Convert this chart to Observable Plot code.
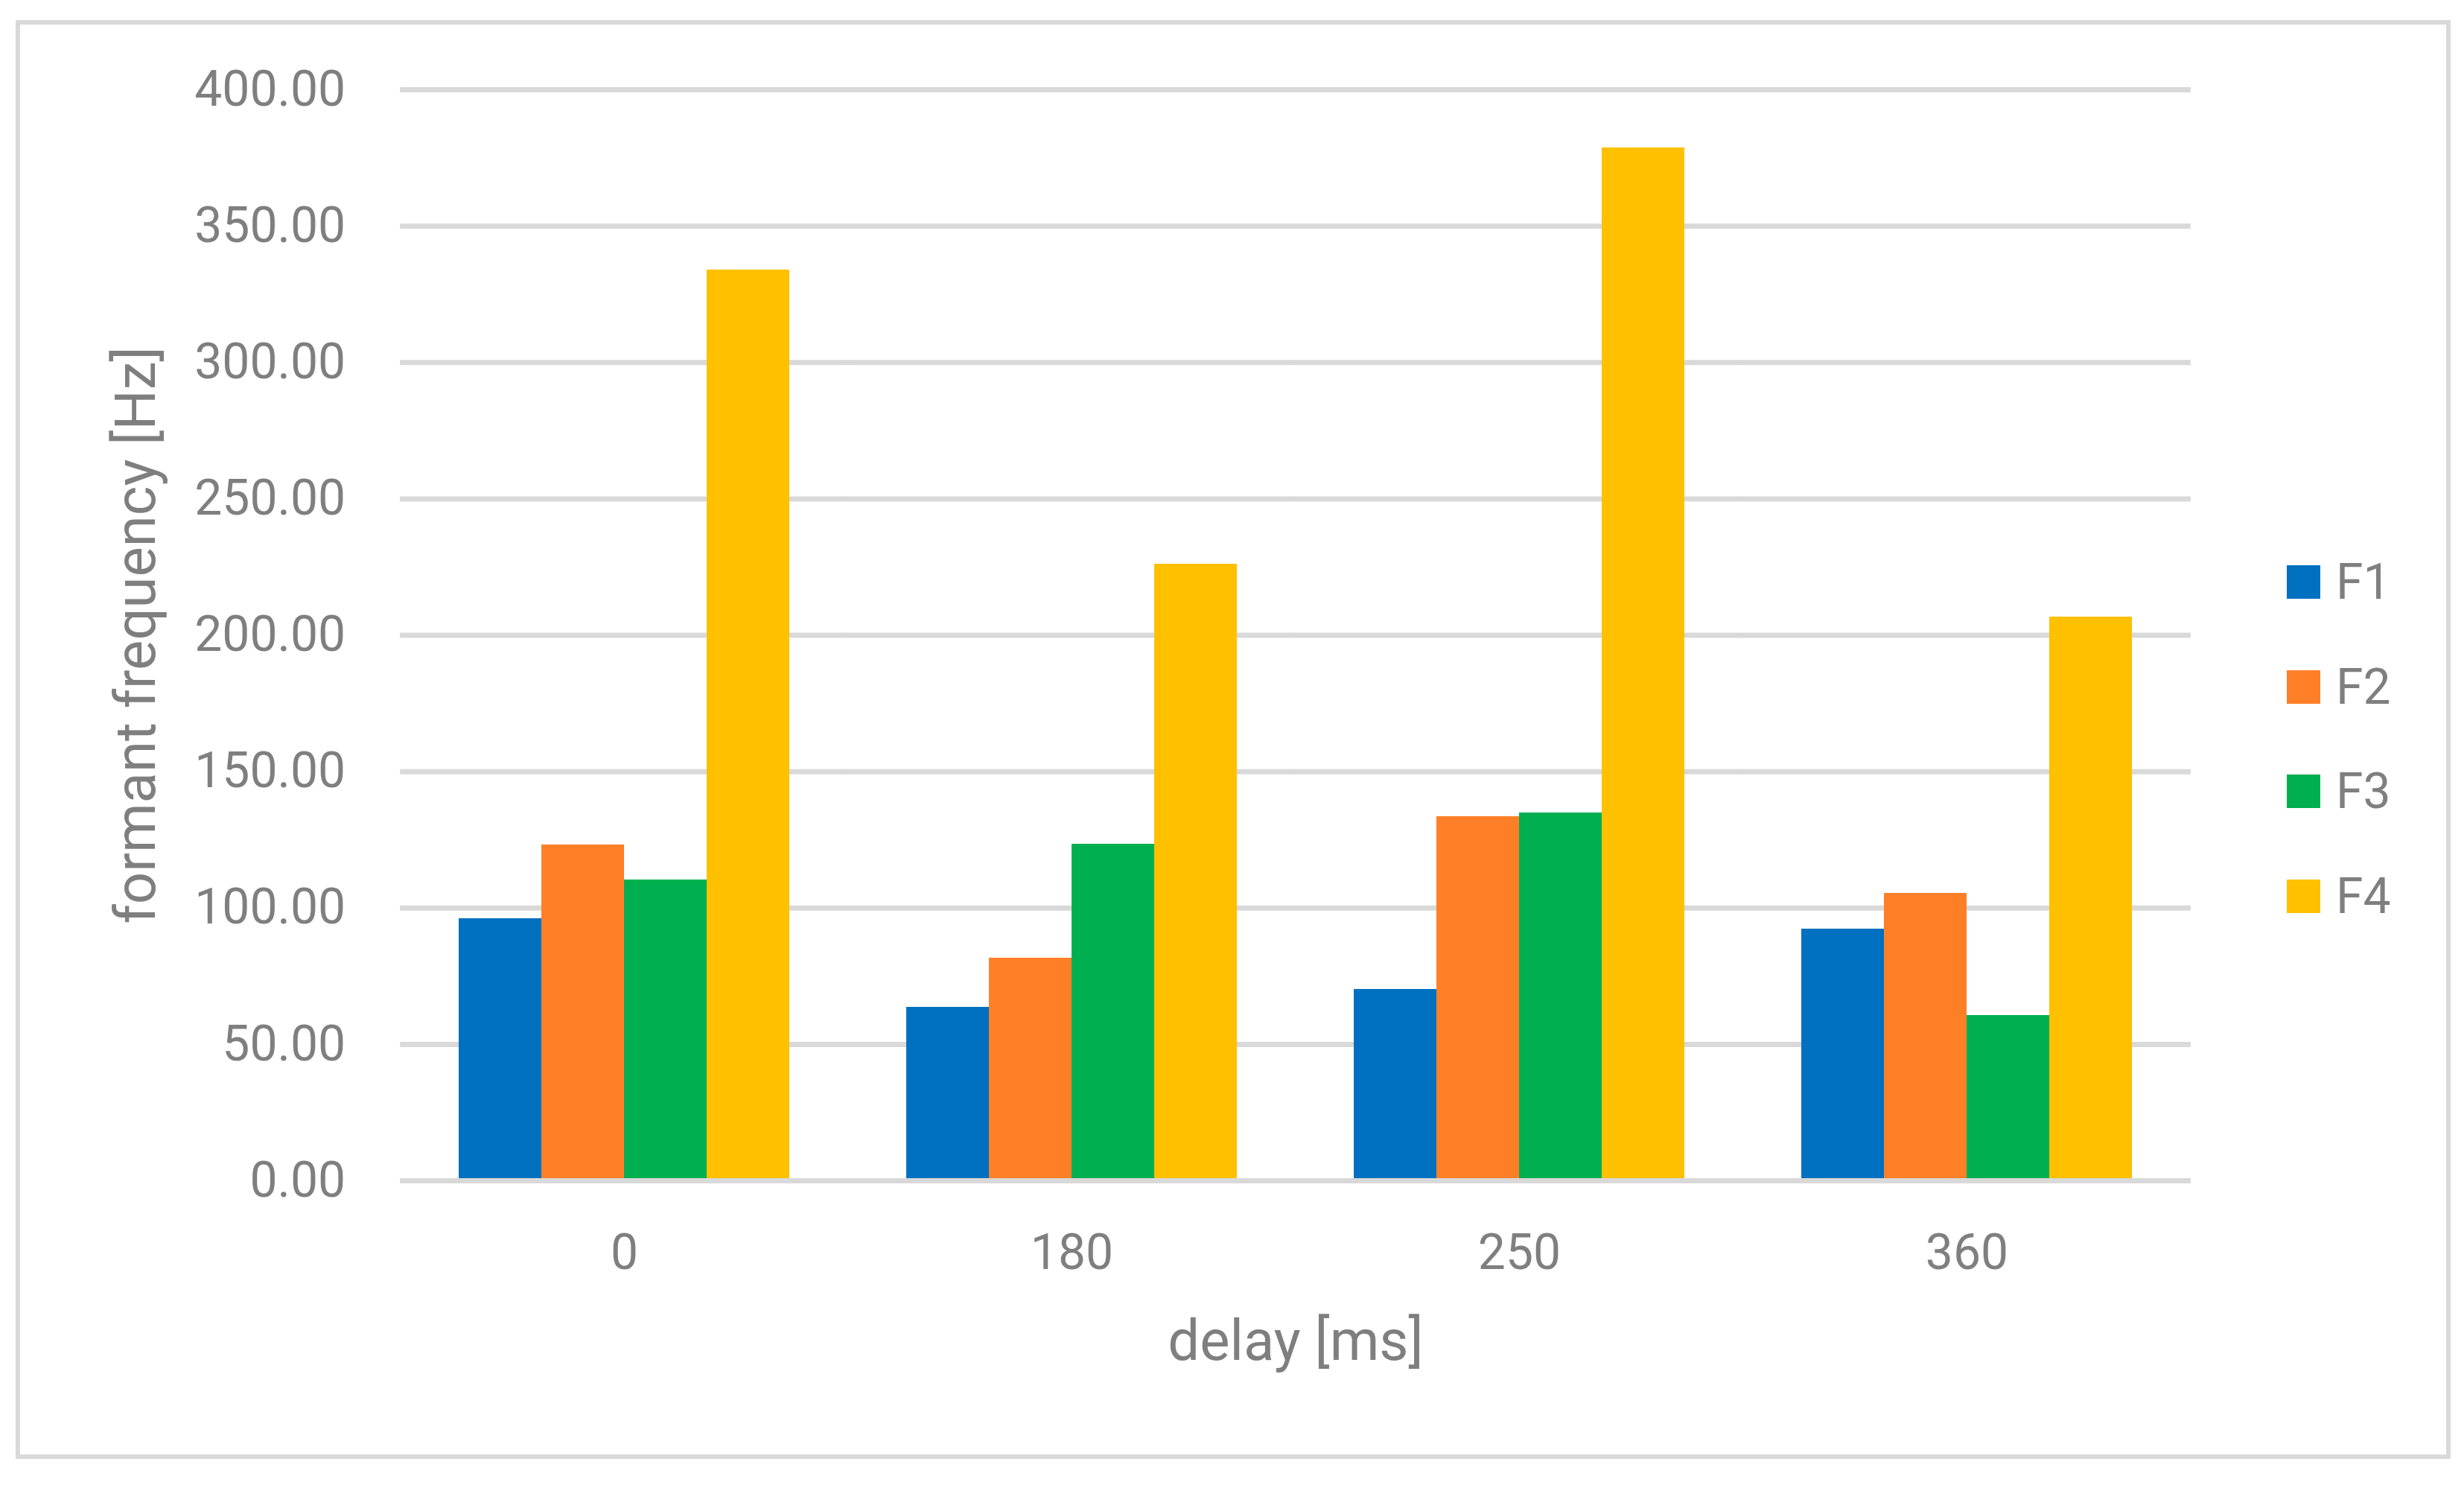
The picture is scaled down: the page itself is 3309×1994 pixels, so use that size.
<!DOCTYPE html>
<html>
<head>
<meta charset="utf-8">
<script src="https://cdn.jsdelivr.net/npm/d3@7"></script>
<script src="https://cdn.jsdelivr.net/npm/@observablehq/plot@0.6"></script>
<style>
  html, body { margin: 0; padding: 0; background: #ffffff; }
  #wrap { position: relative; width: 3309px; height: 1994px; background: #ffffff; overflow: hidden; }
  #border { position: absolute; left: 21px; top: 27px; width: 3270px; height: 1932px; border: 6px solid #d9d9d9; box-sizing: border-box; pointer-events: none; }
  #chart { position: absolute; left: 0; top: 0; }
  #chart [aria-label$="axis label"] text { font-size: 76px !important; }
  #legend { position: absolute; left: 3071px; top: 711px; font-family: Roboto, sans-serif; font-size: 66px; color: #7f7f7f; }
  .row { display: flex; align-items: center; height: 140.7px; }
  .sw { width: 45px; height: 45px; margin-right: 21px; }
</style>
</head>
<body>
<div id="wrap">
  <div id="chart"></div>
  <div id="legend"></div>
  <div id="border"></div>
</div>
<script>
// ---- data ----
const delays = ["0", "180", "250", "360"];           // delay [ms]
const series = ["F1", "F2", "F3", "F4"];
const F1 = [96.0, 63.6, 70.3, 92.2];
const F2 = [123.1, 81.7, 133.5, 105.5];
const F3 = [110.4, 123.3, 134.8, 60.6];
const F4 = [334.0, 226.1, 378.6, 206.7];
const yTicks = [0, 50, 100, 150, 200, 250, 300, 350, 400];
const colors = ["#0070C0", "#FF7F27", "#00B050", "#FFC000"];

const seriesValues = {F1, F2, F3, F4};
const table = [];
delays.forEach((d, i) => series.forEach(s => table.push({delay: d, series: s, value: seriesValues[s][i]})));

// layout
const W = 3309, H = 1994, mL = 536, mR = 366, mT = 120, mB = 409;
const padIn = 0.2605, padOut = padIn / 2;
const step = (W - mL - mR) / (delays.length - padIn + 2 * padOut);
const halfGap = step * padIn / 2; // lets each facet's gridline reach its neighbours; y axis sits at first facet

const plot = Plot.plot({
  width: W,
  height: H,
  marginLeft: mL,
  marginRight: mR,
  marginTop: mT,
  marginBottom: mB,
  style: {fontFamily: "Roboto, sans-serif", fontSize: "66px", color: "#7f7f7f", background: "transparent", overflow: "visible"},
  fx: {
    domain: delays,
    paddingInner: padIn,
    paddingOuter: padOut,
    axis: "bottom",
    label: "delay [ms]",
    labelAnchor: "center",
    labelOffset: 240,
    tickSize: 0,
    tickPadding: 72
  },
  x: {domain: series, padding: 0, axis: null},
  y: {
    domain: [0, 400],
    ticks: yTicks,
    tickFormat: d3.format(".2f"),
    tickSize: 0,
    tickPadding: 74 + halfGap,
    label: "formant frequency [Hz]",
    labelAnchor: "center",
    labelArrow: "none",
    labelOffset: 384 + halfGap
  },
  color: {domain: series, range: colors},
  marks: [
    Plot.ruleY(yTicks, {stroke: "#d9d9d9", strokeWidth: 7, insetLeft: -halfGap - 0.5, insetRight: -halfGap - 0.5}),
    Plot.barY(table, {fx: "delay", x: "series", y: "value", fill: "series", inset: 0, shapeRendering: "crispEdges"}),
    Plot.ruleY([0], {stroke: "#d9d9d9", strokeWidth: 7, insetLeft: -halfGap - 0.5, insetRight: -halfGap - 0.5})
  ]
});
document.getElementById("chart").appendChild(plot);

// legend
const legend = document.getElementById("legend");
series.forEach((s, i) => {
  const row = document.createElement("div");
  row.className = "row";
  const sw = document.createElement("div");
  sw.className = "sw";
  sw.style.background = colors[i];
  const t = document.createElement("span");
  t.textContent = s;
  row.appendChild(sw);
  row.appendChild(t);
  legend.appendChild(row);
});
</script>
</body>
</html>
